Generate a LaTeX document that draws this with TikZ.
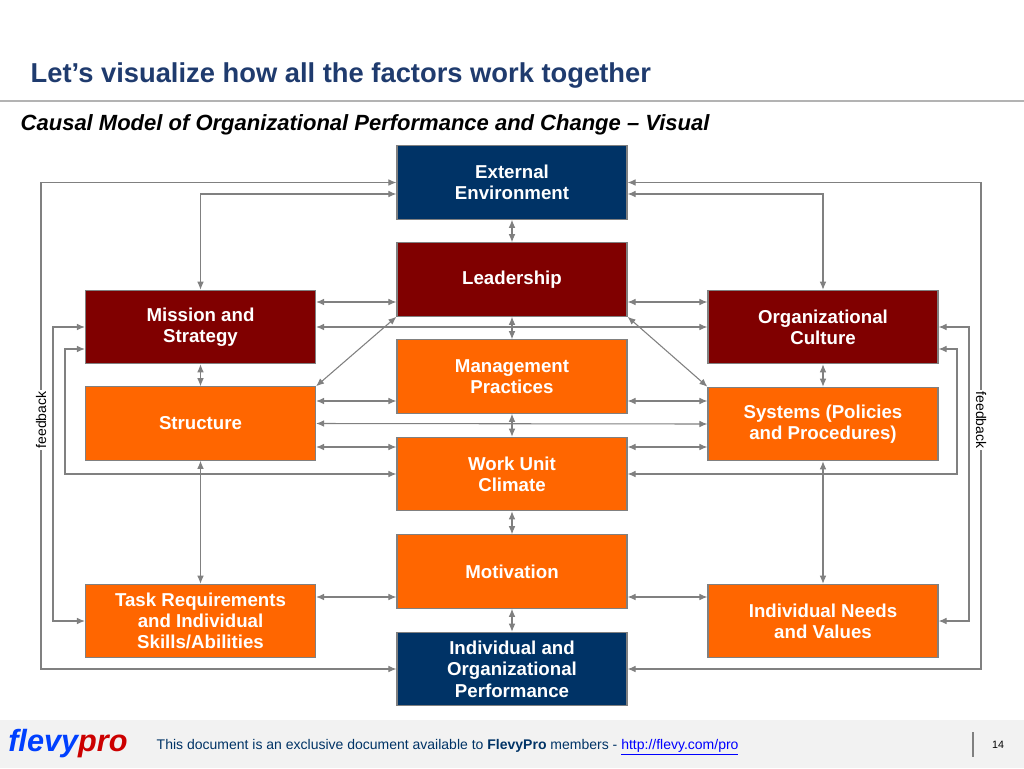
\documentclass[tikz,border=0pt]{standalone}
\usepackage{fontspec}
\setmainfont{Liberation Sans}
\usetikzlibrary{arrows.meta,calc}
\definecolor{navy}{HTML}{003366}
\definecolor{maroon}{HTML}{800000}
\definecolor{orng}{HTML}{FF6600}
\definecolor{ln}{HTML}{808080}
\definecolor{ttl}{HTML}{1F3B6E}
\begin{document}
\begin{tikzpicture}[x=0.75pt,y=-0.75pt,
  box/.style={draw=ln,line width=0.9pt,minimum width=172.5pt,minimum height=55pt,inner sep=0pt,
    text=white,font=\bfseries\fontsize{14}{16}\selectfont,align=center},
  bn/.style={box,fill=navy}, bm/.style={box,fill=maroon}, bo/.style={box,fill=orng},
  cn/.style={draw=ln,line width=0.8pt,{Latex[length=6pt,width=5pt]}-{Latex[length=6pt,width=5pt]}},
  fb/.style={fill=white,inner sep=1pt,font=\fontsize{10.5}{12}\selectfont}]
\useasboundingbox (0,0) rectangle (1024,768);
\fill[white] (0,0) rectangle (1024,768);
% header
\node[anchor=west,text=ttl,font=\bfseries\fontsize{20.5}{24}\selectfont] (title) at (26,75) {Let’s visualize how all the factors work together};
\draw[ln!60,line width=0.8pt] (0,101) -- (1024,101);
\node[anchor=west,font=\bfseries\itshape\fontsize{16.5}{19}\selectfont] (sub) at (16,125) {Causal Model of Organizational Performance and Change – Visual};
% footer
\fill[black!5] (0,720) rectangle (1024,768);
\node[anchor=west,inner sep=0pt,font=\bfseries\itshape\fontsize{23}{26}\selectfont] (logo) at (8,744) {\textcolor{blue!75!cyan}{flevy}\textcolor{red!80!black}{pro}};
\node[anchor=west,text=navy,font=\fontsize{10.5}{12}\selectfont] (foot) at (152,747) {This document is an exclusive document available to \textbf{FlevyPro} members - \textcolor{blue}{\underline{http://flevy.com/pro}}};
\draw[ln,line width=0.8pt] (973,732) -- (973,757);
\node[font=\fontsize{8}{10}\selectfont] (pg) at (998,745) {14};
% boxes
\node[bn] (EE) at (512,182.5) {External\\Environment};
\node[bm] (Lead) at (512,279.5) {Leadership};
\node[bo] (Mgmt) at (512,376.5) {Management\\Practices};
\node[bo] (WU) at (512,474) {Work Unit\\Climate};
\node[bo] (Mot) at (512,571.5) {Motivation};
\node[bn] (IOP) at (512,669) {Individual and\\Organizational\\Performance};
\node[bm] (Mis) at (200.5,327) {Mission and\\Strategy};
\node[bo] (Str) at (200.5,423.5) {Structure};
\node[bo] (Task) at (200.5,621) {Task Requirements\\and Individual\\Skills/Abilities};
\node[bm] (OC) at (823,327) {Organizational\\Culture};
\node[bo] (Sys) at (823,424) {Systems (Policies\\and Procedures)};
\node[bo] (IN) at (823,621) {Individual Needs\\and Values};
% coordinates
\coordinate (fL) at (41,420);
\coordinate (fR) at (981,420);
\coordinate (a1) at (53,474);
\coordinate (a2) at (65,474);
\coordinate (b1) at (969,474);
\coordinate (b2) at (957,474);
% vertical centre chain
\draw[cn] (EE) -- (Lead);
\draw[cn] (Lead) -- (Mgmt);
\draw[cn] (Mgmt) -- (WU);
\draw[cn] (WU) -- (Mot);
\draw[cn] (Mot) -- (IOP);
\draw[cn] (Mis) -- (Str);
\draw[cn] (Str) -- (Task);
\draw[cn] (OC) -- (Sys);
\draw[cn] (Sys) -- (IN);
% feedback
\draw[cn] (EE.west) -| (fL) |- (IOP.west);
\draw[cn] (EE.east) -| (fR) |- (IOP.east);
\node[fb,rotate=90] (fbl) at (fL) {feedback};
\node[fb,rotate=-90] (fbr) at (fR) {feedback};
% top links
\draw[cn] (Mis.north) |- ($(EE.west)+(0,11.5)$);
\draw[cn] (OC.north) |- ($(EE.east)+(0,11.5)$);
% horizontals
\draw[cn] ($(Mis.east)+(0,-25)$) -- ($(Lead.west)+(0,22.5)$);
\draw[cn] ($(OC.west)+(0,-25)$) -- ($(Lead.east)+(0,22.5)$);
\draw[cn] (Mis.east) -- (OC.west);
\draw[cn] ($(Str.east)+(0,-22.5)$) -- ($(Mgmt.west)+(0,24.5)$);
\draw[cn] ($(Sys.west)+(0,-23)$) -- ($(Mgmt.east)+(0,24.5)$);
\draw[cn] (Str.east) -- (Sys.west);
\draw[cn] ($(Str.east)+(0,23.5)$) -- ($(WU.west)+(0,-27)$);
\draw[cn] ($(Sys.west)+(0,23)$) -- ($(WU.east)+(0,-27)$);
\draw[cn] ($(Task.east)+(0,-24)$) -- ($(Mot.west)+(0,25.5)$);
\draw[cn] ($(IN.west)+(0,-24)$) -- ($(Mot.east)+(0,25.5)$);
% diagonals
\draw[cn] (Lead.south west) -- (Str.north east);
\draw[cn] (Lead.south east) -- (Sys.north west);
% side loops
\draw[cn] (Mis.west) -| (a1) |- (Task.west);
\draw[cn] ($(Mis.west)+(0,22)$) -| (a2) -- (WU.west);
\draw[cn] (OC.east) -| (b1) |- (IN.east);
\draw[cn] ($(OC.east)+(0,22)$) -| (b2) -- (WU.east);
\end{tikzpicture}
\end{document}
